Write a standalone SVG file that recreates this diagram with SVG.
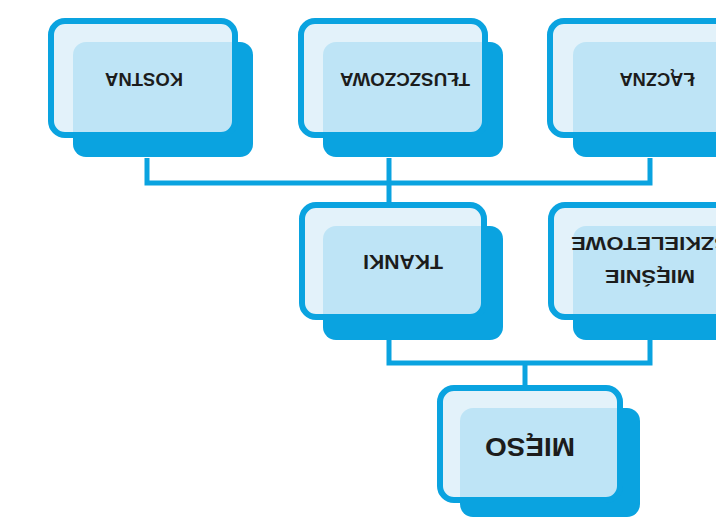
<svg xmlns="http://www.w3.org/2000/svg" width="716" height="518" viewBox="0 0 716 518">
<style>
.shadow{fill:#0aa3e0}
.front{fill:#def0f9;fill-opacity:0.85;stroke:#0aa3e0;stroke-width:6}
.lbl{font-family:"Liberation Sans",Arial,sans-serif;font-weight:bold;fill:#1c1c1c;text-anchor:middle}
.conn{fill:none;stroke:#0aa3e0;stroke-width:5}
</style>
<rect width="716" height="518" fill="#ffffff"/>
<g id="connectors">
<path class="conn" d="M147,158 V183 H650 V158"/>
<path class="conn" d="M389,158 V205"/>
<path class="conn" d="M389,338 V363 H650 V338"/>
<path class="conn" d="M525,363 V388"/>
</g>
<g id="kostna">
<rect class="shadow" x="73" y="42" width="180" height="115" rx="13"/>
<rect class="front" x="51" y="21" width="184" height="114" rx="14"/>
<g transform="translate(144,80) rotate(180)"><text class="lbl" x="0" y="6.8" font-size="19" textLength="78" lengthAdjust="spacingAndGlyphs">KOSTNA</text></g>
</g>
<g id="tluszczowa">
<rect class="shadow" x="323" y="42" width="180" height="115" rx="13"/>
<rect class="front" x="301" y="21" width="184" height="114" rx="14"/>
<g transform="translate(405,80) rotate(180)"><text class="lbl" x="0" y="6.8" font-size="19" textLength="130" lengthAdjust="spacingAndGlyphs">TŁUSZCZOWA</text></g>
</g>
<g id="laczna">
<rect class="shadow" x="573" y="42" width="180" height="115" rx="13"/>
<rect class="front" x="550" y="21" width="184" height="114" rx="14"/>
<g transform="translate(657,80) rotate(180)"><text class="lbl" x="0" y="6.8" font-size="19" textLength="75" lengthAdjust="spacingAndGlyphs">ŁĄCZNA</text></g>
</g>
<g id="tkanki">
<rect class="shadow" x="323" y="226" width="180" height="114" rx="13"/>
<rect class="front" x="302" y="205" width="182" height="112" rx="14"/>
<g transform="translate(403,262) rotate(180)"><text class="lbl" x="0" y="7.2" font-size="20" textLength="80" lengthAdjust="spacingAndGlyphs">TKANKI</text></g>
</g>
<g id="miesnie">
<rect class="shadow" x="573" y="226" width="180" height="114" rx="13"/>
<rect class="front" x="551" y="205" width="182" height="112" rx="14"/>
<g transform="translate(650,277) rotate(180)"><text class="lbl" x="0" y="6.8" font-size="19" textLength="90" lengthAdjust="spacingAndGlyphs">MIĘŚNIE</text></g>
<g transform="translate(650,244) rotate(180)"><text class="lbl" x="0" y="6.8" font-size="19" textLength="158" lengthAdjust="spacingAndGlyphs">SZKIELETOWE</text></g>
</g>
<g id="mieso">
<rect class="shadow" x="460" y="408" width="180" height="109" rx="13"/>
<rect class="front" x="440" y="388" width="180" height="112" rx="14"/>
<g transform="translate(530,447) rotate(180)"><text class="lbl" x="0" y="9.3" font-size="26" textLength="90" lengthAdjust="spacingAndGlyphs">MIĘSO</text></g>
</g>
</svg>
